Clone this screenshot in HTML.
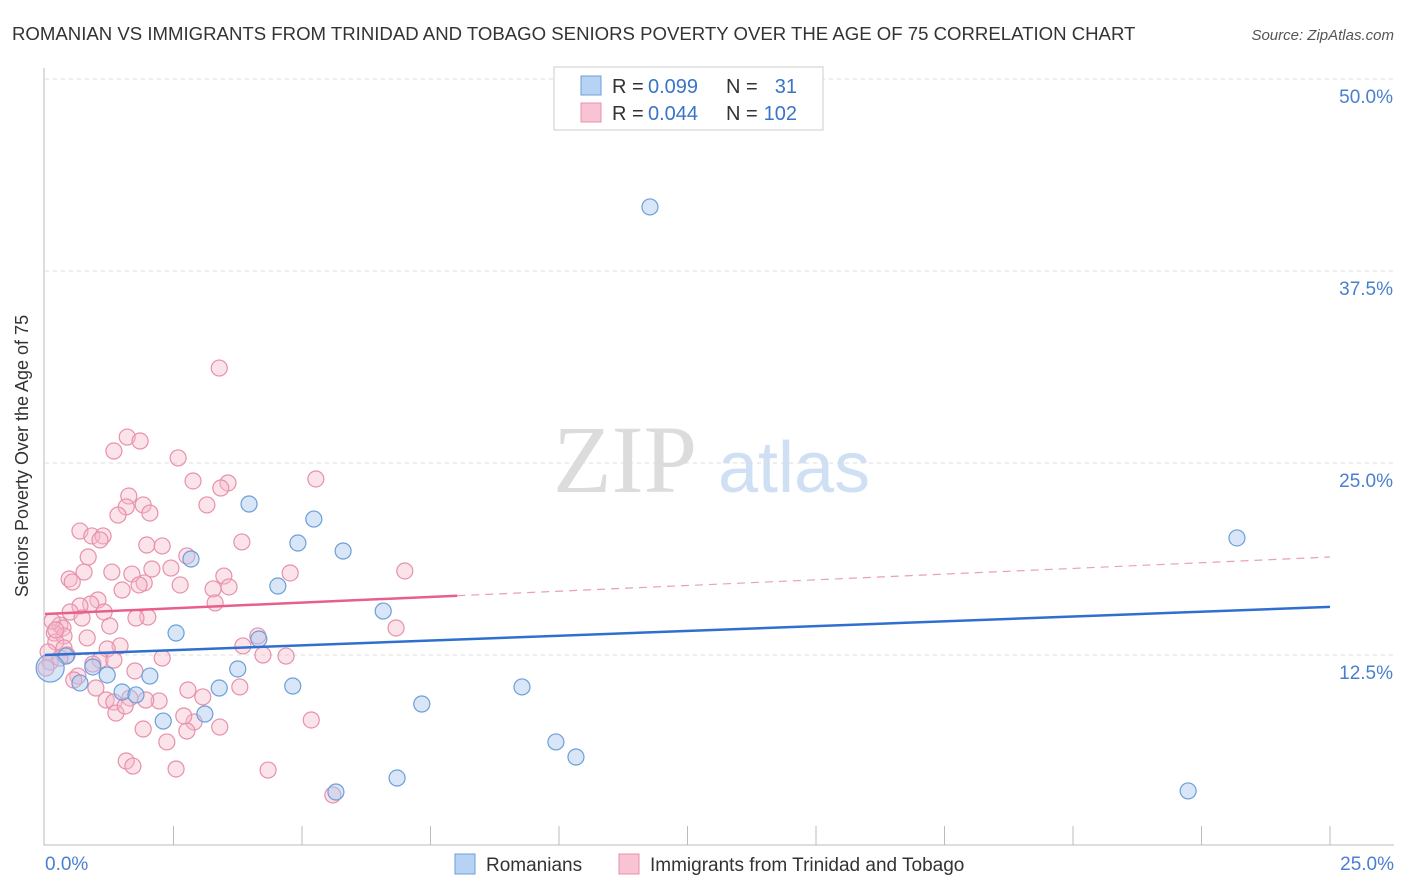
<!DOCTYPE html>
<html><head><meta charset="utf-8"><style>
body{margin:0;background:#fff;font-family:"Liberation Sans",sans-serif}
svg{display:block}
</style></head><body>
<svg id="c" width="1406" height="892" xmlns="http://www.w3.org/2000/svg">
<text x="12" y="40" font-size="18.6" fill="#333">ROMANIAN VS IMMIGRANTS FROM TRINIDAD AND TOBAGO SENIORS POVERTY OVER THE AGE OF 75 CORRELATION CHART</text>
<text x="1394" y="40" font-size="15" font-style="italic" fill="#555" text-anchor="end">Source: ZipAtlas.com</text>
<text x="28" y="456" font-size="18" fill="#333" text-anchor="middle" transform="rotate(-90 28 456)">Seniors Poverty Over the Age of 75</text>
<g><text x="553" y="492" font-family="Liberation Serif,serif" font-size="96" fill="#dcdcdc">ZIP</text><text x="718" y="492" font-size="72" fill="#d0e0f4">atlas</text></g>
<g id="grid"></g><g id="marks"></g>
<g>
<rect x="554" y="67" width="269" height="63" fill="#fff" stroke="#ccc"/>
<rect x="581" y="76" width="20" height="19" fill="#b8d2f4" stroke="#6a9fd8"/>
<rect x="581" y="103" width="20" height="19" fill="#f8c4d4" stroke="#e890ab"/>
<text x="612" y="93" font-size="20" fill="#333">R =</text>
<text x="648" y="93" font-size="20" fill="#3a74c8">0.099</text>
<text x="726" y="93" font-size="20" fill="#333">N =</text>
<text x="797" y="93" font-size="20" fill="#3a74c8" text-anchor="end">31</text>
<text x="612" y="120" font-size="20" fill="#333">R =</text>
<text x="648" y="120" font-size="20" fill="#3a74c8">0.044</text>
<text x="726" y="120" font-size="20" fill="#333">N =</text>
<text x="797" y="120" font-size="20" fill="#3a74c8" text-anchor="end">102</text>
</g>
<g>
<rect x="455" y="854" width="20" height="20" fill="#b8d2f4" stroke="#6a9fd8"/>
<text x="486" y="871" font-size="19" fill="#333">Romanians</text>
<rect x="619" y="854" width="20" height="20" fill="#f8c4d4" stroke="#e890ab"/>
<text x="650" y="871" font-size="19" fill="#333">Immigrants from Trinidad and Tobago</text>
</g>
</svg>
<script>
const yTicks=[12.5,25,37.5,50];
const xTickLabels=["0.0%","25.0%"];
const blueX=[11.77,23.19,22.24,3.97,5.23,4.92,5.80,2.84,4.53,6.58,2.55,4.16,3.75,2.04,1.21,4.82,9.28,3.39,1.50,1.77,0.68,3.11,2.30,7.33,9.94,10.33,6.85,5.66,0.93,0.41,0.10];
const blueY=[41.67,20.12,3.65,22.33,21.35,19.79,19.27,18.75,16.99,15.36,13.93,13.54,11.59,11.13,11.20,10.48,10.42,10.35,10.09,9.90,10.68,8.66,8.20,9.31,6.84,5.86,4.49,3.58,11.72,12.43,11.65];
const pinkX=[3.39,1.60,1.85,1.34,2.59,5.27,2.88,3.56,3.42,1.63,1.91,1.58,2.04,1.42,3.15,0.68,0.91,1.13,1.07,1.98,2.28,3.83,2.76,0.84,0.47,0.76,1.30,1.69,2.08,4.77,7.00,2.45,3.48,1.93,0.53,1.50,2.63,3.27,3.58,1.83,1.03,0.89,0.68,3.31,0.49,1.15,2.00,1.77,0.29,0.35,0.18,0.37,6.83,4.14,3.85,0.82,1.46,1.21,0.21,0.37,0.06,0.43,4.24,4.69,2.28,1.07,0.10,0.93,1.75,0.64,0.02,0.56,0.99,2.78,3.79,3.07,1.19,2.22,1.65,1.34,1.38,5.18,2.90,1.91,2.76,2.37,1.58,1.71,2.55,4.34,5.60,1.34,0.14,0.21,0.72,1.56,2.70,3.40,1.26,1.96,0.29];
const pinkY=[31.18,26.69,26.43,25.78,25.33,23.96,23.83,23.70,23.37,22.85,22.27,22.14,21.74,21.61,22.27,20.57,20.25,20.25,19.99,19.66,19.60,19.86,18.95,18.88,17.45,17.90,17.90,17.77,18.10,17.84,17.97,18.16,17.64,17.19,17.25,16.73,17.06,16.80,16.93,17.06,16.08,15.82,15.69,15.89,15.30,15.30,14.97,14.91,14.45,14.26,13.93,13.74,14.26,13.74,13.09,13.61,13.09,12.89,13.35,12.96,12.70,12.50,12.50,12.43,12.30,12.17,12.04,11.91,11.46,11.13,11.65,10.87,10.35,10.22,10.42,9.77,9.57,9.51,9.70,9.44,8.72,8.27,8.14,7.68,7.55,6.84,5.60,5.27,5.08,5.01,3.39,12.17,14.71,14.13,14.91,9.18,8.53,7.81,14.39,9.57,12.30];
const blueTrend=[12.5,15.63];
const pinkTrend=[15.17,18.88];
const pinkSolidEnd=8.02;
const NS="http://www.w3.org/2000/svg";
const X=v=>45+v/25*1285, Y=v=>847-v/12.5*192;
function mk(p,t,a){const e=document.createElementNS(NS,t);for(const k in a)e.setAttribute(k,a[k]);p.appendChild(e);return e;}
const g=document.getElementById('grid'),m=document.getElementById('marks');
yTicks.forEach(v=>{
 const l=mk(g,'line',{x1:45,x2:1394,y1:Y(v),y2:Y(v),stroke:'#ddd','stroke-dasharray':'4,4'});
 
 
 const t=mk(g,'text',{x:1393,y:Y(v)+24,'font-size':19,fill:'#4a7fd0','text-anchor':'end'});
 t.textContent=v.toFixed(1)+'%';
 
 
});
const ax=mk(g,'path',{d:'M44,68V845H1394',fill:'none',stroke:'#bbb'});


for(let i=1;i<=10;i++){const tk=mk(g,'line',{x1:X(i*2.5),x2:X(i*2.5),y1:826,y2:845,stroke:'#bbb'});
 
 }
xTickLabels.forEach((s,i)=>{const t=mk(g,'text',{x:i?1394:45,y:870,'font-size':19,fill:'#4a7fd0','text-anchor':i?'end':'start'});t.textContent=s;
 
 });
pinkX.forEach((x,i)=>{const c=mk(m,'circle',{cx:X(x),cy:Y(pinkY[i]),r:8,fill:'#f4b8cb','fill-opacity':0.4,stroke:'#e890ab','stroke-width':1.2});
 
 });
blueX.forEach((x,i)=>{const c=mk(m,'circle',{cx:X(x),cy:Y(blueY[i]),r:i==blueX.length-1?14:8,fill:'#a8c8f0','fill-opacity':0.45,stroke:'#6a9fd8','stroke-width':1.2});
 
 });
const bl=mk(m,'line',{x1:X(0),x2:X(25),y1:Y(blueTrend[0]),y2:Y(blueTrend[1]),stroke:'#2f6fd0','stroke-width':2.5});


const pf=t=>pinkTrend[0]+(pinkTrend[1]-pinkTrend[0])*t/25;
const pl=mk(m,'line',{x1:X(0),x2:X(pinkSolidEnd),y1:Y(pf(0)),y2:Y(pf(pinkSolidEnd)),stroke:'#e8608a','stroke-width':2.5});


const pd=mk(m,'line',{x1:X(pinkSolidEnd),x2:X(25),y1:Y(pf(pinkSolidEnd)),y2:Y(pf(25)),stroke:'#e8a0b8','stroke-width':1.2,'stroke-dasharray':'8,6'});


</script>
</body></html>
